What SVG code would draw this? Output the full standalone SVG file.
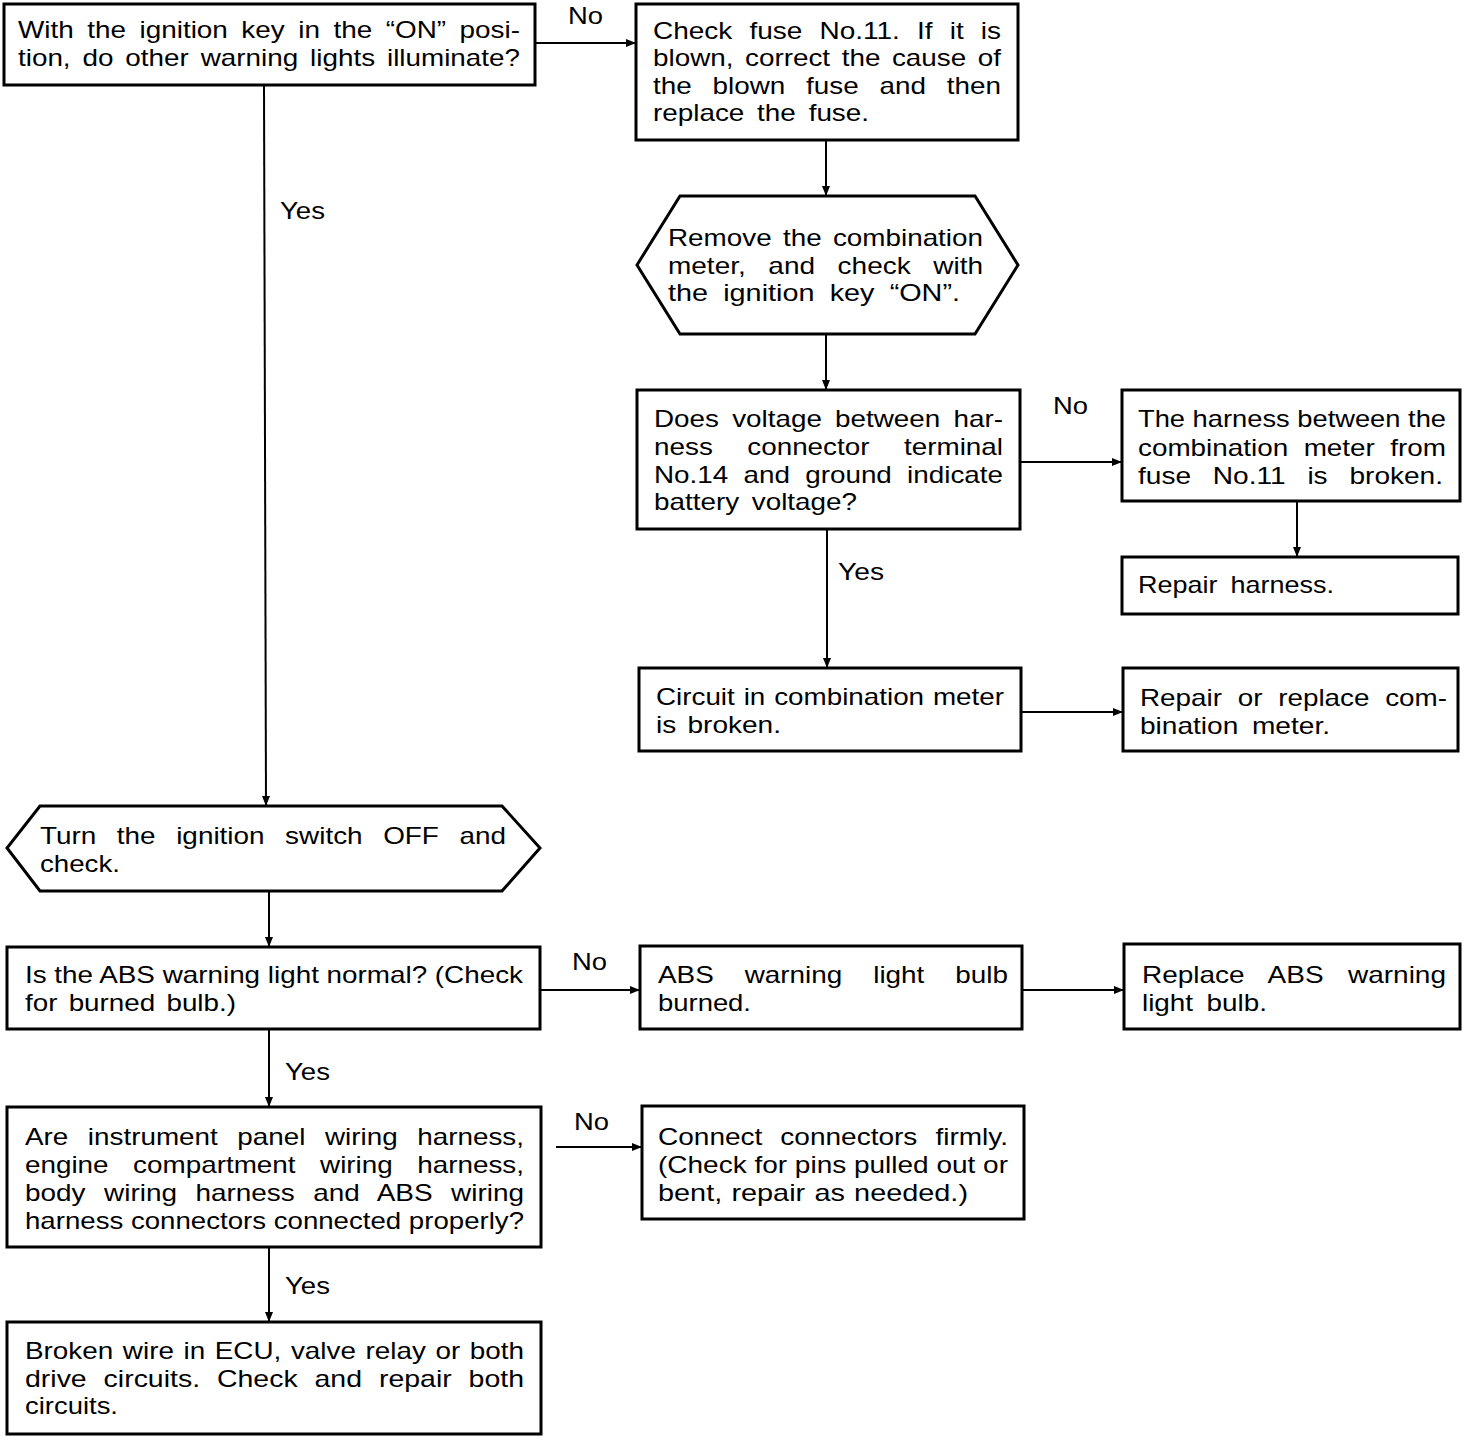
<svg xmlns="http://www.w3.org/2000/svg" width="1472" height="1436" viewBox="0 0 1472 1436">
<defs>
<marker id="ah" markerWidth="10" markerHeight="8" refX="9" refY="4" orient="auto" markerUnits="userSpaceOnUse">
<path d="M0,0 L10,4 L0,8 Z" fill="#000"/>
</marker>
</defs>
<style>
.b{fill:#fff;stroke:#000;stroke-width:3}
.c{fill:none;stroke:#000;stroke-width:2}
text{font-family:"Liberation Sans",Arial,sans-serif;font-size:24px;fill:#000}
</style>
<rect width="1472" height="1436" fill="#fff"/>
<g id="connectors">
<line class="c" x1="535" y1="43" x2="635" y2="43" marker-end="url(#ah)"/>
<line class="c" x1="826" y1="140" x2="826" y2="195" marker-end="url(#ah)"/>
<line class="c" x1="826" y1="334" x2="826" y2="389" marker-end="url(#ah)"/>
<line class="c" x1="1020" y1="462" x2="1121" y2="462" marker-end="url(#ah)"/>
<line class="c" x1="1297" y1="501" x2="1297" y2="556" marker-end="url(#ah)"/>
<line class="c" x1="827" y1="529" x2="827" y2="667" marker-end="url(#ah)"/>
<line class="c" x1="1021" y1="712" x2="1122" y2="712" marker-end="url(#ah)"/>
<line class="c" x1="264" y1="85" x2="266" y2="805" marker-end="url(#ah)"/>
<line class="c" x1="269" y1="891" x2="269" y2="946" marker-end="url(#ah)"/>
<line class="c" x1="540" y1="990" x2="639" y2="990" marker-end="url(#ah)"/>
<line class="c" x1="1022" y1="990" x2="1123" y2="990" marker-end="url(#ah)"/>
<line class="c" x1="269" y1="1029" x2="269" y2="1106" marker-end="url(#ah)"/>
<line class="c" x1="556" y1="1147" x2="641" y2="1147" marker-end="url(#ah)"/>
<line class="c" x1="269" y1="1247" x2="269" y2="1321" marker-end="url(#ah)"/>
<text x="568" y="24" textLength="35" lengthAdjust="spacingAndGlyphs">No</text>
<text x="280" y="219" textLength="45" lengthAdjust="spacingAndGlyphs">Yes</text>
<text x="1053" y="414" textLength="35" lengthAdjust="spacingAndGlyphs">No</text>
<text x="838" y="580" textLength="46" lengthAdjust="spacingAndGlyphs">Yes</text>
<text x="572" y="970" textLength="35" lengthAdjust="spacingAndGlyphs">No</text>
<text x="285" y="1080" textLength="45" lengthAdjust="spacingAndGlyphs">Yes</text>
<text x="574" y="1130" textLength="35" lengthAdjust="spacingAndGlyphs">No</text>
<text x="285" y="1294" textLength="45" lengthAdjust="spacingAndGlyphs">Yes</text>
</g>
<g id="n1">
<rect class="b" x="4" y="4" width="531" height="81"/>
<text x="18" y="38" word-spacing="5" textLength="502" lengthAdjust="spacingAndGlyphs">With the ignition key in the “ON” posi-</text>
<text x="18" y="66" word-spacing="3.6" textLength="502" lengthAdjust="spacingAndGlyphs">tion, do other warning lights illuminate?</text>
</g>
<g id="n2">
<rect class="b" x="636" y="4" width="382" height="136"/>
<text x="653" y="39" word-spacing="8" textLength="348" lengthAdjust="spacingAndGlyphs">Check fuse No.11. If it is</text>
<text x="653" y="66" word-spacing="3.3" textLength="348" lengthAdjust="spacingAndGlyphs">blown, correct the cause of</text>
<text x="653" y="94" word-spacing="11.3" textLength="348" lengthAdjust="spacingAndGlyphs">the blown fuse and then</text>
<text x="653" y="121" word-spacing="4.4" textLength="216" lengthAdjust="spacingAndGlyphs">replace the fuse.</text>
</g>
<g id="n3">
<polygon class="b" points="680,196 975,196 1018,265 975,334 680,334 637,265"/>
<text x="668" y="246" word-spacing="3.1" textLength="315" lengthAdjust="spacingAndGlyphs">Remove the combination</text>
<text x="668" y="274" word-spacing="12.7" textLength="315" lengthAdjust="spacingAndGlyphs">meter, and check with</text>
<text x="668" y="301" word-spacing="6" textLength="292" lengthAdjust="spacingAndGlyphs">the ignition key “ON”.</text>
</g>
<g id="n4">
<rect class="b" x="637" y="390" width="383" height="139"/>
<text x="654" y="427" word-spacing="4.7" textLength="349" lengthAdjust="spacingAndGlyphs">Does voltage between har-</text>
<text x="654" y="455" word-spacing="23" textLength="349" lengthAdjust="spacingAndGlyphs">ness connector terminal</text>
<text x="654" y="483" word-spacing="6.5" textLength="349" lengthAdjust="spacingAndGlyphs">No.14 and ground indicate</text>
<text x="654" y="510" word-spacing="4.2" textLength="203" lengthAdjust="spacingAndGlyphs">battery voltage?</text>
</g>
<g id="n5">
<rect class="b" x="1122" y="390" width="338" height="111"/>
<text x="1138" y="427" word-spacing="0" textLength="308" lengthAdjust="spacingAndGlyphs">The harness between the</text>
<text x="1138" y="456" word-spacing="6.7" textLength="308" lengthAdjust="spacingAndGlyphs">combination meter from</text>
<text x="1138" y="484" word-spacing="12" textLength="305" lengthAdjust="spacingAndGlyphs">fuse No.11 is broken.</text>
</g>
<g id="n6">
<rect class="b" x="1122" y="557" width="336" height="57"/>
<text x="1138" y="593" word-spacing="5" textLength="196" lengthAdjust="spacingAndGlyphs">Repair harness.</text>
</g>
<g id="n7">
<rect class="b" x="639" y="668" width="382" height="83"/>
<text x="656" y="705" word-spacing="1" textLength="348" lengthAdjust="spacingAndGlyphs">Circuit in combination meter</text>
<text x="656" y="733" word-spacing="3" textLength="125" lengthAdjust="spacingAndGlyphs">is broken.</text>
</g>
<g id="n8">
<rect class="b" x="1123" y="668" width="335" height="83"/>
<text x="1140" y="706" word-spacing="6.9" textLength="307" lengthAdjust="spacingAndGlyphs">Repair or replace com-</text>
<text x="1140" y="734" word-spacing="5" textLength="190" lengthAdjust="spacingAndGlyphs">bination meter.</text>
</g>
<g id="n9">
<polygon class="b" points="40,806 502,806 540,848 502,891 40,891 7,848"/>
<text x="40" y="844" word-spacing="11" textLength="466" lengthAdjust="spacingAndGlyphs">Turn the ignition switch OFF and</text>
<text x="40" y="872" textLength="80" lengthAdjust="spacingAndGlyphs">check.</text>
</g>
<g id="n10">
<rect class="b" x="7" y="947" width="533" height="82"/>
<text x="25" y="983" word-spacing="0" textLength="498" lengthAdjust="spacingAndGlyphs">Is the ABS warning light normal? (Check</text>
<text x="25" y="1011" word-spacing="3" textLength="211" lengthAdjust="spacingAndGlyphs">for burned bulb.)</text>
</g>
<g id="n11">
<rect class="b" x="640" y="946" width="382" height="83"/>
<text x="658" y="983" word-spacing="20" textLength="350" lengthAdjust="spacingAndGlyphs">ABS warning light bulb</text>
<text x="658" y="1011" textLength="93" lengthAdjust="spacingAndGlyphs">burned.</text>
</g>
<g id="n12">
<rect class="b" x="1124" y="944" width="336" height="85"/>
<text x="1142" y="983" word-spacing="14.3" textLength="304" lengthAdjust="spacingAndGlyphs">Replace ABS warning</text>
<text x="1142" y="1011" word-spacing="5" textLength="125" lengthAdjust="spacingAndGlyphs">light bulb.</text>
</g>
<g id="n13">
<rect class="b" x="7" y="1107" width="534" height="140"/>
<text x="25" y="1145" word-spacing="10.2" textLength="499" lengthAdjust="spacingAndGlyphs">Are instrument panel wiring harness,</text>
<text x="25" y="1173" word-spacing="14.5" textLength="499" lengthAdjust="spacingAndGlyphs">engine compartment wiring harness,</text>
<text x="25" y="1201" word-spacing="9.2" textLength="499" lengthAdjust="spacingAndGlyphs">body wiring harness and ABS wiring</text>
<text x="25" y="1229" word-spacing="0" textLength="499" lengthAdjust="spacingAndGlyphs">harness connectors connected properly?</text>
</g>
<g id="n14">
<rect class="b" x="642" y="1106" width="382" height="113"/>
<text x="658" y="1145" word-spacing="8.8" textLength="350" lengthAdjust="spacingAndGlyphs">Connect connectors firmly.</text>
<text x="658" y="1173" word-spacing="0" textLength="350" lengthAdjust="spacingAndGlyphs">(Check for pins pulled out or</text>
<text x="658" y="1201" word-spacing="1" textLength="310" lengthAdjust="spacingAndGlyphs">bent, repair as needed.)</text>
</g>
<g id="n15">
<rect class="b" x="7" y="1322" width="534" height="112"/>
<text x="25" y="1359" word-spacing="1.6" textLength="499" lengthAdjust="spacingAndGlyphs">Broken wire in ECU, valve relay or both</text>
<text x="25" y="1387" word-spacing="7.6" textLength="499" lengthAdjust="spacingAndGlyphs">drive circuits. Check and repair both</text>
<text x="25" y="1414" textLength="93" lengthAdjust="spacingAndGlyphs">circuits.</text>
</g>
</svg>
